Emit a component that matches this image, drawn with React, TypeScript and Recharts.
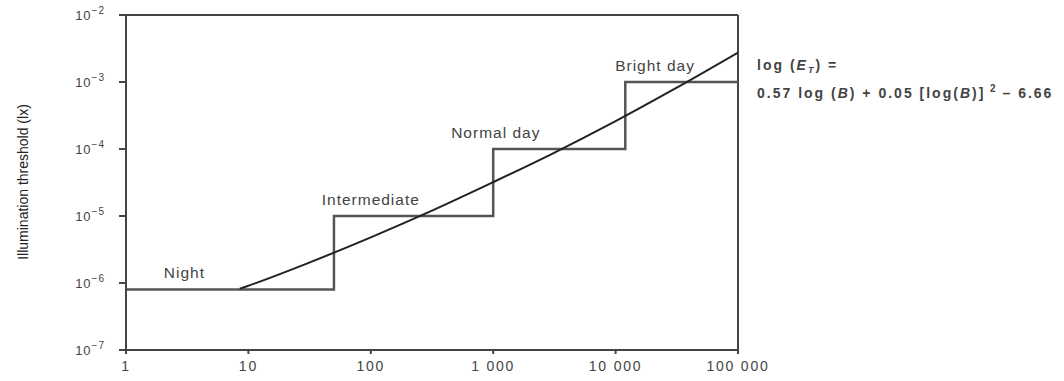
import { LineChart, Line, XAxis, YAxis, ReferenceLine, ReferenceDot, Label } from 'recharts';

// luminance B (x) and illumination threshold (y)
const xTicks = [1, 10, 100, 1000, 10000, 100000];
const xTickLabels = ['1', '10', '100', '1 000', '10 000', '100 000'];
const yTicks = [1e-7, 1e-6, 1e-5, 1e-4, 1e-3, 1e-2];
const yTickExps = ['7', '6', '5', '4', '3', '2'];

const stepB = [1, 50, 1000, 12000, 100000];
const stepE = [8e-7, 1e-5, 1e-4, 1e-3, 1e-3];

const curveB = [8.5, 10, 30, 100, 300, 1000, 3000, 10000, 30000, 100000];
const curveE = [8.2e-7, 9.1e-7, 1.95e-6, 4.8e-6, 1.15e-5, 3.2e-5, 8.4e-5, 2.6e-4, 7.8e-4, 2.75e-3];

const regimes = ['Night', 'Intermediate', 'Normal day', 'Bright day'];
const regimeB = [3, 100, 1050, 21000];
const regimeE = [8e-7, 1e-5, 1e-4, 1e-3];

const stepData = stepB.map((b, i) => ({ b, e: stepE[i] }));
const curveData = curveB.map((b, i) => ({ b, e: curveE[i] }));

const FONT = '"Liberation Sans", Arial, sans-serif';
const INK = '#444';

function XTick(props: any) {
  const { x, y, payload } = props;
  const i = xTicks.indexOf(payload.value);
  return (
    <text x={x} y={y + 15} textAnchor="middle" fontFamily={FONT} fontSize={14} letterSpacing={1.8} fill={INK}>
      {xTickLabels[i]}
    </text>
  );
}

function YTick(props: any) {
  const { x, y, payload } = props;
  const i = yTicks.indexOf(payload.value);
  return (
    <text x={x - 12} y={y + 5} textAnchor="end" fontFamily={FONT} fontSize={13} letterSpacing={1} fill={INK}>
      <tspan>10</tspan>
      <tspan dy={-6} fontSize={10}>{'\u2212' + yTickExps[i]}</tspan>
    </text>
  );
}

function regimeLabel(text: string) {
  return (p: any) => (
    <text x={p.cx} y={p.cy - 11} textAnchor="middle" fontFamily={FONT} fontSize={15.5} letterSpacing={1} fill={INK}>
      {text}
    </text>
  );
}

function Formula(p: any) {
  const x = p.cx + 19;
  return (
    <g fontFamily={FONT} fontSize={14} fontWeight="bold" fill={INK} letterSpacing={2}>
      <text x={x} y={p.cy - 12}>
        log (<tspan fontStyle="italic">E</tspan>
        <tspan fontStyle="italic" fontSize={9} dy={3}>T</tspan>
        <tspan dy={-3}>) =</tspan>
      </text>
      <text x={x} y={p.cy + 16}>
        0.57 log (<tspan fontStyle="italic">B</tspan>) + 0.05 [log(<tspan fontStyle="italic">B</tspan>)]
        <tspan dy={-6} fontSize={10}> 2 </tspan>
        <tspan dy={6}>{'\u2013'} 6.66</tspan>
      </text>
    </g>
  );
}

export default function App() {
  return (
    <div style={{ position: 'absolute', left: 0, top: 0, width: 1064, height: 381, background: '#fff' }}>
      <LineChart width={1064} height={381} margin={{ top: 15, right: 326, bottom: 0, left: 0 }}>
        <XAxis
          dataKey="b"
          type="number"
          scale="log"
          domain={[1, 100000]}
          ticks={xTicks}
          allowDataOverflow
          height={31}
          tickSize={4}
          stroke={INK}
          strokeWidth={2}
          tick={<XTick />}
        />
        <YAxis
          dataKey="e"
          type="number"
          scale="log"
          domain={[1e-7, 1e-2]}
          ticks={yTicks}
          allowDataOverflow
          width={126}
          tickSize={7}
          stroke={INK}
          strokeWidth={2}
          tick={<YTick />}
        >
          <Label
            content={() => (
              <text
                x={28}
                y={182}
                transform="rotate(-90 28 182)"
                textAnchor="middle"
                fontFamily={FONT}
                fontSize={14}
                fill="#222"
              >
                Illumination threshold (lx)
              </text>
            )}
          />
        </YAxis>
        <ReferenceLine y={1e-2} stroke={INK} strokeWidth={2} />
        <ReferenceLine x={100000} stroke={INK} strokeWidth={2} />
        <Line
          data={stepData}
          dataKey="e"
          type="stepAfter"
          stroke="#555"
          strokeWidth={2.5}
          dot={false}
          isAnimationActive={false}
        />
        <Line
          data={curveData}
          dataKey="e"
          type="monotone"
          stroke="#222"
          strokeWidth={2}
          dot={false}
          isAnimationActive={false}
        />
        {regimes.map((r, i) => (
          <ReferenceDot key={r} x={regimeB[i]} y={regimeE[i]} r={0} shape={regimeLabel(r)} />
        ))}
        <ReferenceDot x={100000} y={1e-3} r={0} ifOverflow="visible" shape={Formula} />
      </LineChart>
    </div>
  );
}
